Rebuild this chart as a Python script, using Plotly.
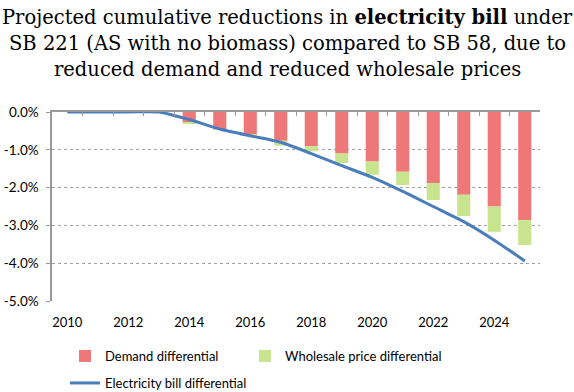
import plotly.graph_objects as go

years = list(range(2010, 2026))
demand = [0, 0, 0, 0, -0.29, -0.45, -0.6, -0.76, -0.91, -1.1, -1.31, -1.58, -1.88, -2.19, -2.5, -2.86]
wholesale = [0, 0, 0, 0, -0.02, -0.02, -0.03, -0.13, -0.13, -0.25, -0.35, -0.35, -0.45, -0.56, -0.67, -0.66]
bill = [0, 0, 0, 0, -0.2, -0.45, -0.63, -0.8, -1.1, -1.42, -1.73, -2.1, -2.5, -2.9, -3.39, -3.94]
y_ticks = [0, -1, -2, -3, -4, -5]
x_ticks = list(range(2010, 2026, 2))
title_lines = [
    "Projected cumulative reductions in <b>electricity bill</b> under",
    "SB 221 (AS with no biomass) compared to SB 58, due to",
    "reduced demand and reduced wholesale prices",
]

W, H, L, R, T, B = 574, 392, 52, 34, 112, 91
PW, PH = W - L - R, H - T - B

fig = go.Figure()
fig.add_trace(go.Bar(x=years, y=demand, name="Demand differential",
                     marker=dict(color="#EE7777", line=dict(width=0)), width=0.43,
                     legend="legend"))
fig.add_trace(go.Bar(x=years, y=wholesale, name="Wholesale price differential",
                     marker=dict(color="#C8E48E", line=dict(width=0)), width=0.43,
                     legend="legend3"))
fig.add_trace(go.Scatter(x=years, y=bill, name="Electricity bill differential", mode="lines",
                         line=dict(color="#4A7EBB", width=3, shape="spline", smoothing=0.6),
                         legend="legend2"))
# dummy trace on top axis for category boundary ticks
fig.add_trace(go.Scatter(x=[years[0]], y=[None], xaxis="x2", showlegend=False, hoverinfo="skip"))

annotations = []
for i, line in enumerate(title_lines):
    annotations.append(dict(text=line, xref="paper", yref="paper", x=(W / 2 - L) / PW,
                            xanchor="center", showarrow=False,
                            y=(H - B - (17 + 26 * i)) / PH, yanchor="middle",
                            font=dict(family="DejaVu Serif, Liberation Serif, serif", size=19.5,
                                      color="black")))

legend_common = dict(orientation="h", xref="container", xanchor="left", yref="container",
                     yanchor="top", font=dict(size=13), bgcolor="rgba(0,0,0,0)")

fig.update_layout(
    width=W, height=H,
    margin=dict(l=L, r=R, t=T, b=B, autoexpand=False),
    paper_bgcolor="white", plot_bgcolor="white",
    barmode="relative",
    annotations=annotations,
    font=dict(family="Lato, Calibri, sans-serif", size=13, color="black"),
    xaxis=dict(range=[2009.5, 2025.5], tickvals=x_ticks, ticktext=[str(t) for t in x_ticks],
               showgrid=False, zeroline=False, showline=False, ticks="",
               ticklabelstandoff=12, automargin=False, tickfont=dict(size=13)),
    xaxis2=dict(overlaying="x", matches="x", side="top", anchor="y",
                range=[2009.5, 2025.5], tickvals=[y + 0.5 for y in range(2009, 2026)],
                showticklabels=False, ticks="inside", ticklen=4, tickcolor="#9A9A9A",
                showline=True, linecolor="#9A9A9A", linewidth=1.5, showgrid=False,
                zeroline=False, automargin=False),
    yaxis=dict(range=[-5, 0], tickvals=y_ticks, ticktext=[f"{v:.1f}%" for v in y_ticks],
               showgrid=True, gridcolor="#A0A0A0", griddash="dot", gridwidth=1,
               zeroline=False, showline=True, linecolor="#9A9A9A", linewidth=1.5,
               ticks="outside", ticklen=4, tickcolor="#9A9A9A", ticklabelstandoff=5,
               automargin=False, tickfont=dict(size=13.5)),
    legend=dict(x=65 / W, y=1 - 341 / H, **legend_common),
    legend3=dict(x=245 / W, y=1 - 341 / H, **legend_common),
    legend2=dict(x=65 / W, y=1 - 368 / H, **legend_common),
    showlegend=True,
)

fig.write_html("out.html", config={"displayModeBar": False},
               post_script="document.body.style.margin='0';")
